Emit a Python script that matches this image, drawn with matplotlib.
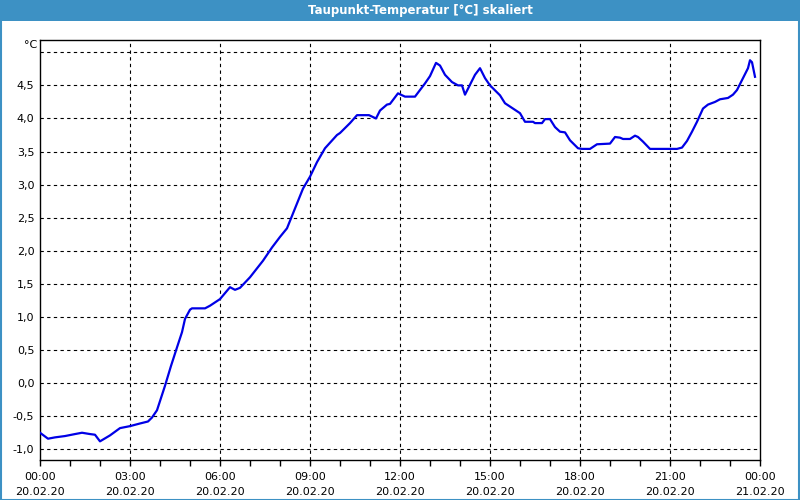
import matplotlib
matplotlib.use("Agg")
import matplotlib.pyplot as plt
from matplotlib.patches import Rectangle
from matplotlib.ticker import MultipleLocator, FixedLocator, FuncFormatter

title = "Taupunkt-Temperatur [°C] skaliert"
unit = "°C"
x_labels = ["00:00\n20.02.20", "03:00\n20.02.20", "06:00\n20.02.20", "09:00\n20.02.20",
            "12:00\n20.02.20", "15:00\n20.02.20", "18:00\n20.02.20", "21:00\n20.02.20",
            "00:00\n21.02.20"]
y_ticks = [-1.0, -0.5, 0.0, 0.5, 1.0, 1.5, 2.0, 2.5, 3.0, 3.5, 4.0, 4.5]

px = [40, 48, 55, 65, 75, 82, 90, 95, 100, 110, 120, 130, 140, 148, 152, 157, 165, 171,
      177, 182, 185, 190, 192, 205, 210, 220, 230, 235, 240, 250, 263, 272, 280, 287, 295,
      303, 310, 317, 325, 337, 340, 350, 357, 369, 376, 380, 387, 390, 398, 405, 415, 420,
      425, 430, 436, 440, 445, 452, 458, 462, 465, 470, 475, 480, 485, 490, 500, 505, 512,
      520, 525, 533, 535, 542, 545, 550, 555, 560, 565, 570, 578, 582, 590, 597, 610, 615,
      620, 623, 630, 635, 638, 643, 650, 665, 677, 682, 687, 692, 697, 703, 708, 715, 720,
      728, 733, 737, 742, 748, 750, 752, 755]
hours = [(p - 40) / 30.0 for p in px]
temps = [-0.75, -0.84, -0.82, -0.80, -0.77, -0.75, -0.77, -0.78, -0.88, -0.79, -0.68, -0.65,
         -0.61, -0.58, -0.52, -0.41, -0.04, 0.26, 0.54, 0.77, 0.97, 1.11, 1.13, 1.13, 1.17,
         1.27, 1.45, 1.41, 1.44, 1.60, 1.85, 2.05, 2.21, 2.34, 2.64, 2.94, 3.12, 3.34, 3.55,
         3.75, 3.78, 3.93, 4.05, 4.05, 4.00, 4.12, 4.21, 4.22, 4.38, 4.33, 4.33, 4.43, 4.53,
         4.64, 4.84, 4.80, 4.66, 4.55, 4.50, 4.50, 4.36, 4.51, 4.66, 4.76, 4.61, 4.50, 4.35,
         4.23, 4.16, 4.08, 3.95, 3.95, 3.93, 3.93, 3.99, 3.99, 3.87, 3.80, 3.79, 3.67, 3.55,
         3.54, 3.54, 3.61, 3.62, 3.72, 3.71, 3.69, 3.69, 3.74, 3.72, 3.65, 3.54, 3.54, 3.54,
         3.56, 3.66, 3.80, 3.95, 4.15, 4.21, 4.25, 4.29, 4.31, 4.36, 4.43, 4.58, 4.76, 4.88,
         4.85, 4.63]

fig = plt.figure(figsize=(8, 5), dpi=100)
fig.patch.set_facecolor("white")

# title bar
fig.patches.append(Rectangle((0, 1 - 21 / 500), 1, 21 / 500, transform=fig.transFigure,
                             facecolor="#3d91c4", edgecolor="none", zorder=0))
# frame border
fig.patches.append(Rectangle((0.5 / 800, 0.5 / 500), 1 - 1.5 / 800, 1 - 1.5 / 500,
                             transform=fig.transFigure, facecolor="none",
                             edgecolor="#3d91c4", linewidth=1.5, zorder=0))
fig.text(420 / 800, 1 - 10.5 / 500, title, color="white", fontsize=8.5, fontweight="bold",
         ha="center", va="center", family="DejaVu Sans")

ax = fig.add_axes([40 / 800, 40 / 500, 720 / 800, 420 / 500])
ax.plot(hours, temps, color="#0000e6", linewidth=1.6, zorder=3)

ax.set_xlim(0, 24)
ax.set_ylim(-1.162, 5.186)
ax.xaxis.set_minor_locator(MultipleLocator(1))
ax.set_xticks(range(0, 25, 3))
ax.set_xticklabels(x_labels, fontsize=8, linespacing=1.55)
ax.yaxis.set_major_locator(FixedLocator(y_ticks))
ax.yaxis.set_major_formatter(FuncFormatter(lambda v, p: f"{v:.1f}".replace(".", ",")))
ax.tick_params(axis="y", length=0, pad=4, labelsize=8)
ax.tick_params(axis="x", which="both", length=4, width=1, pad=5, direction="out")

for v in [-1.0, -0.5, 0.0, 0.5, 1.0, 1.5, 2.0, 2.5, 3.0, 3.5, 4.0, 4.5, 5.0]:
    ax.axhline(v, color="black", linewidth=0.8, linestyle=(0, (3, 3)), zorder=1)
for h in range(3, 24, 3):
    ax.axvline(h, color="black", linewidth=0.8, linestyle=(0, (3, 3)), zorder=1)

for s in ax.spines.values():
    s.set_linewidth(1.0)
    s.set_color("black")

fig.text(37 / 800, 1 - 45 / 500, unit, fontsize=8, ha="right", va="center")

fig.savefig("out.png", dpi=100)
